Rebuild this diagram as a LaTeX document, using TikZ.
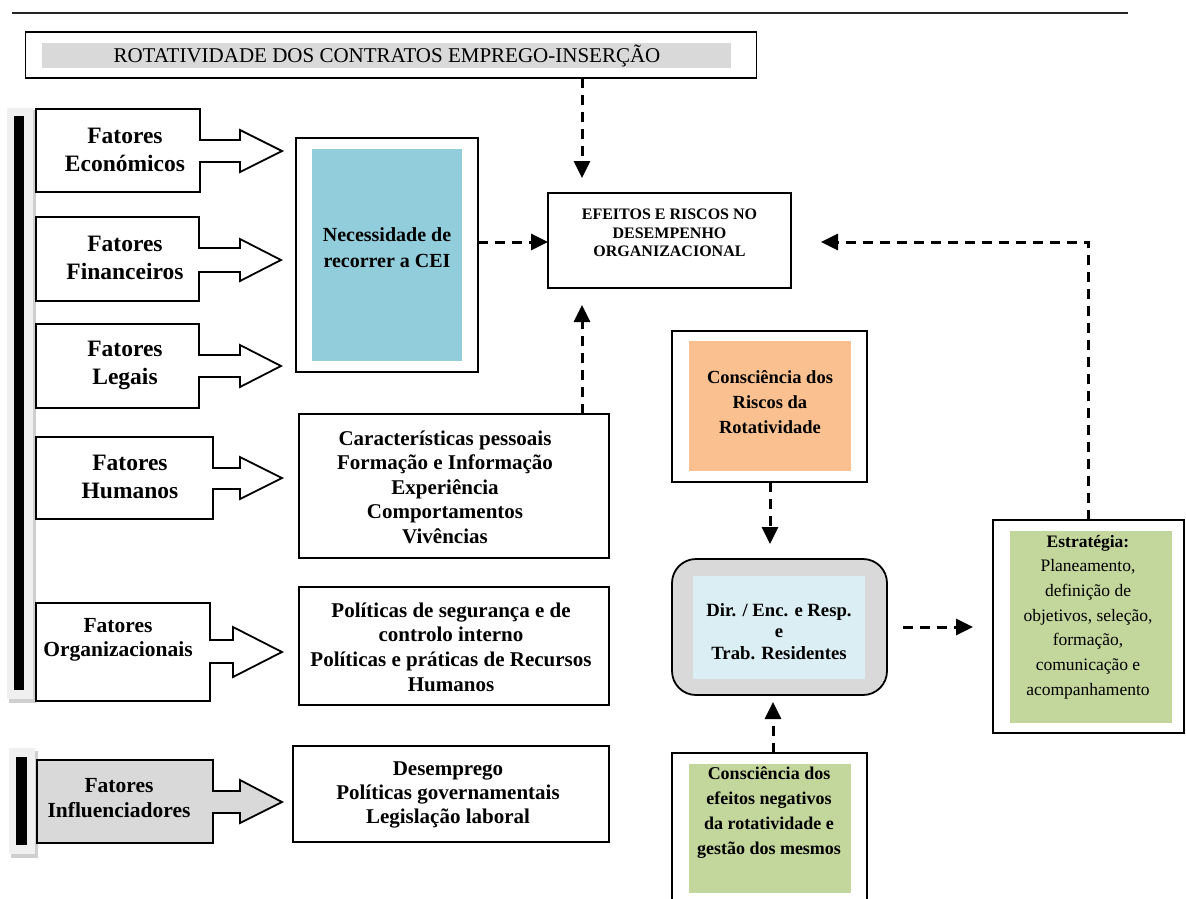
\documentclass[tikz,border=0pt]{standalone}
\usepackage{fontspec}
\setmainfont{Liberation Serif}
\usetikzlibrary{arrows.meta,calc}
\definecolor{cblue}{HTML}{92CDDC}
\definecolor{corange}{HTML}{FAC090}
\definecolor{clightblue}{HTML}{DBEEF4}
\definecolor{cgray}{HTML}{D9D9D9}
\definecolor{cgreen}{HTML}{C3D69B}
\definecolor{cframe}{HTML}{F0F0F0}
\definecolor{cshadow}{HTML}{CFCFCF}
\newcommand\fsz[2]{\fontsize{#1}{#2}\selectfont}
\tikzset{
  box/.style={draw=black, line width=1.8pt, fill=white, inner sep=0pt, outer sep=0pt},
  fillbox/.style={draw=none, inner sep=0pt, outer sep=0pt},
  txt/.style={align=center, inner sep=0pt, outer sep=0pt},
  blockar/.style={draw=black, line width=1.8pt, line join=miter},
  dashar/.style={draw=black, line width=3pt, dash pattern=on 10pt off 7pt,
    -{Triangle[length=17pt,width=16pt]}},
}
\begin{document}
\begin{tikzpicture}[x=1pt,y=-1pt]
\useasboundingbox (0,0) rectangle (1186,898);

% top rule
\draw[line width=1.6pt, draw=black!85] (12,13) -- (1128,13);

% title box
\node[box, minimum width=731pt, minimum height=46pt] (title) at (391,55) {};
\node[fillbox, fill=cgray, minimum width=689pt, minimum height=25pt] (titleband) at (386.5,55.5) {};
\node[txt, font=\fsz{21}{24}] (titletext) at (387,55.5) {ROTATIVIDADE DOS CONTRATOS EMPREGO-INSERÇÃO};

% left bars
\fill[cshadow] (9,110) rectangle (36,703);
\fill[cframe] (7,108) rectangle (33,699);
\fill[black] (14,116) rectangle (24,690);
\fill[cshadow] (11,751) rectangle (38,858);
\fill[cframe] (9,748) rectangle (35,854);
\fill[black] (16,757) rectangle (27,845);

% factor block arrows
\draw[blockar, fill=white] (36,109) -- (200,109) -- (200,140) -- (240,140) -- (240,130) -- (282,151) -- (240,172) -- (240,162) -- (200,162) -- (200,192) -- (36,192) -- cycle;
\node[txt, font=\bfseries\fsz{23.5}{28}] (fecon) at (125,150) {Fatores\\Económicos};

\draw[blockar, fill=white] (36,217) -- (199,217) -- (199,248) -- (240,248) -- (240,239) -- (281,260) -- (240,281) -- (240,272) -- (199,272) -- (199,301) -- (36,301) -- cycle;
\node[txt, font=\bfseries\fsz{23.5}{28}] (ffin) at (125,258) {Fatores\\Financeiros};

\draw[blockar, fill=white] (36,324) -- (199,324) -- (199,355) -- (240,355) -- (240,345) -- (281,366) -- (240,387) -- (240,377) -- (199,377) -- (199,408) -- (36,408) -- cycle;
\node[txt, font=\bfseries\fsz{23.5}{28}] (fleg) at (125,365) {Fatores\\Legais};

\draw[blockar, fill=white] (36,437) -- (213,437) -- (213,468) -- (240,468) -- (240,457) -- (282,478) -- (240,499) -- (240,489) -- (213,489) -- (213,519) -- (36,519) -- cycle;
\node[txt, font=\bfseries\fsz{23.5}{28}] (fhum) at (130,477) {Fatores\\Humanos};

\draw[blockar, fill=white] (36,603) -- (210,603) -- (210,640) -- (233,640) -- (233,627) -- (282,652) -- (233,677) -- (233,663) -- (210,663) -- (210,701) -- (36,701) -- cycle;
\node[txt, font=\bfseries\fsz{21.5}{24.5}] (forg) at (118,640) {Fatores\\Organizacionais};

\draw[blockar, fill=cgray] (37,760) -- (213,760) -- (213,791) -- (240,791) -- (240,780) -- (282,802) -- (240,823) -- (240,813) -- (213,813) -- (213,843) -- (37,843) -- cycle;
\node[txt, font=\bfseries\fsz{21.5}{25}] (finf) at (119,798) {Fatores\\Influenciadores};

% Necessidade
\node[box, minimum width=182pt, minimum height=234pt] (necout) at (387,255) {};
\node[fillbox, fill=cblue, minimum width=150pt, minimum height=212pt] (necin) at (387,255) {};
\node[txt, font=\bfseries\fsz{20}{26}] (nectext) at (387,248) {Necessidade de\\recorrer a CEI};

% Efeitos
\node[box, minimum width=243pt, minimum height=95pt] (efeitos) at (669.5,240.5) {};
\node[txt, font=\bfseries\fsz{16}{18.5}] (eftext) at (669.5,233) {EFEITOS E RISCOS NO\\DESEMPENHO\\ORGANIZACIONAL};

% middle column boxes
\node[box, minimum width=310pt, minimum height=144pt] (carac) at (454,486) {};
\node[txt, font=\bfseries\fsz{21}{24.5}] (caractext) at (445,487) {Características pessoais\\Formação e Informação\\Experiência\\Comportamentos\\Vivências};

\node[box, minimum width=310pt, minimum height=118pt] (polit) at (454,646) {};
\node[txt, font=\bfseries\fsz{21}{24.7}] (polittext) at (451,647) {Políticas de segurança e de\\controlo interno\\Políticas e práticas de Recursos\\Humanos};

\node[box, minimum width=316pt, minimum height=96pt] (desemp) at (451,794) {};
\node[txt, font=\bfseries\fsz{21}{24}] (desemptext) at (448,795) {Desemprego\\Políticas governamentais\\Legislação laboral};

% Consciência dos riscos
\node[box, minimum width=195pt, minimum height=151pt] (consc) at (769.5,406.5) {};
\node[fillbox, fill=corange, minimum width=162pt, minimum height=130pt] (conscin) at (770,406) {};
\node[txt, font=\bfseries\fsz{18.5}{25}] (consctext) at (770,402) {Consciência dos\\Riscos da\\Rotatividade};

% Dir / Enc rounded
\node[draw=black, line width=1.8pt, fill=cgray, rounded corners=24pt, inner sep=0pt, outer sep=0pt, minimum width=215pt, minimum height=136pt] (dir) at (779.5,627) {};
\node[fillbox, fill=clightblue, minimum width=172pt, minimum height=103pt] (dirin) at (779,627.5) {};
\node[txt, font=\bfseries\fsz{18.7}{21.5}] (dirtext) at (779,631.5) {Dir. / Enc. e Resp.\\e\\Trab. Residentes};

% bottom green box (open at bottom)
\coordinate (gtl) at (672,753);
\coordinate (gtr) at (867,753);
\draw[line width=1.8pt] (672,905) -- (gtl) -- (gtr) -- (867,905);
\node[fillbox, fill=cgreen, minimum width=162pt, minimum height=129pt] (greenin) at (770,828.5) {};
\node[txt, font=\bfseries\fsz{18}{25}] (greentext) at (769,812.5) {Consciência dos\\efeitos negativos\\da rotatividade e\\gestão dos mesmos};

% Estratégia
\node[box, minimum width=191pt, minimum height=213pt] (estr) at (1088.5,626.5) {};
\node[fillbox, fill=cgreen, minimum width=162pt, minimum height=192pt] (estrin) at (1091,627) {};
\node[txt, font=\fsz{17.5}{24.7}] (estrtext) at (1088,617) {\textbf{Estratégia:}\\Planeamento,\\definição de\\objetivos, seleção,\\formação,\\comunicação e\\acompanhamento};

% connectors
\coordinate (colA) at (582,0);
\coordinate (rowB) at (0,242);
\coordinate (colE) at (1088,0);
\coordinate (colG) at (773,0);
\coordinate (colR) at (770,0);
\draw[dashar] (title.south -| colA) -- ([yshift=15pt]efeitos.north -| colA);
\draw[dashar] (necout.east |- rowB) -- (efeitos.west |- rowB);
\draw[dashar] (carac.north -| colA) -- ([yshift=-17pt]efeitos.south -| colA);
\draw[dashar] (estr.north -| colE) -- (colE |- rowB) -- ([xshift=30pt]efeitos.east |- rowB);
\draw[dashar] (consc.south -| colR) -- ([yshift=15pt]dir.north -| colR);
\draw[dashar] (gtl -| colG) -- ([yshift=-7pt]dir.south -| colG);
\draw[dashar] ([xshift=16pt]dir.east) -- ([xshift=-20pt]estr.west |- dir.east);
\end{tikzpicture}
\end{document}
